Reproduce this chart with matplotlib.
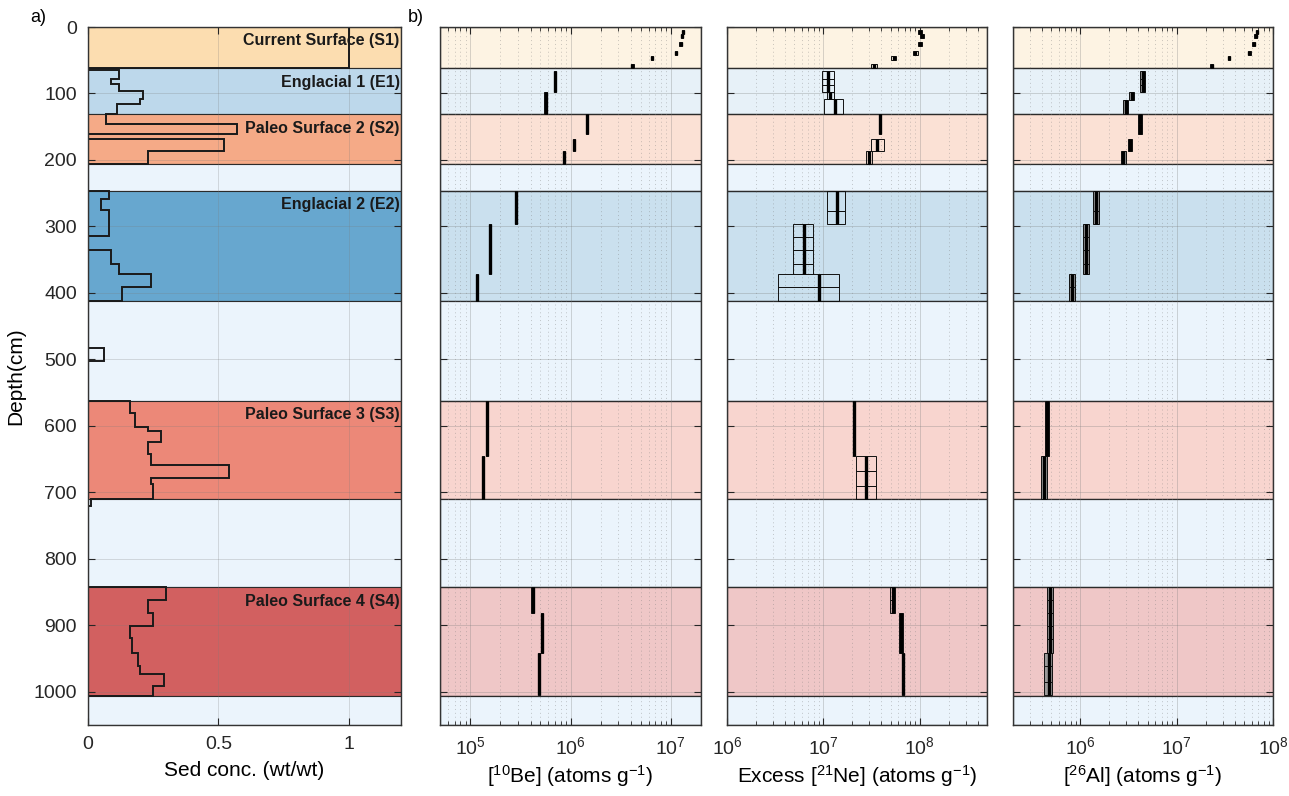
import numpy as np
import matplotlib.pyplot as plt
from matplotlib.patches import Rectangle
from matplotlib.colors import to_rgba

plt.rcParams['font.family'] = ['Liberation Sans', 'DejaVu Sans']
plt.rcParams['mathtext.fontset'] = 'custom'
plt.rcParams['mathtext.rm'] = 'Liberation Sans'
plt.rcParams['mathtext.it'] = 'Liberation Sans:italic'
plt.rcParams['mathtext.bf'] = 'Liberation Sans:bold'

# stratigraphic units (depth in cm)
layer_name = ['Current Surface (S1)', 'Englacial 1 (E1)', 'Paleo Surface 2 (S2)', '',
              'Englacial 2 (E2)', '', 'Paleo Surface 3 (S3)', '', 'Paleo Surface 4 (S4)', '']
layer_top = [0, 62, 131, 206, 246, 412, 562, 710, 843, 1006]
layer_bot = [62, 131, 206, 246, 412, 562, 710, 843, 1006, 1050]
layer_col = ['#FCDDB0', '#BDD8EB', '#F5AA87', '#EBF4FC', '#67A7CF',
             '#EBF4FC', '#EC8878', '#EBF4FC', '#D26060', '#EBF4FC']

# sediment concentration profile (stairs)
sed_edges = [0, 62, 65, 78, 85, 96, 109, 116, 131, 146, 161, 169, 186, 206,
             246, 259, 276, 315, 336, 356, 371, 391, 412, 483, 503,
             562, 581, 602, 607, 625, 642, 659, 678, 687, 710, 720,
             843, 862, 882, 901, 919, 941, 961, 973, 991, 1006, 1050]
sed_vals = [1.0, 0, 0.12, 0.09, 0.12, 0.21, 0.20, 0.11, 0.07, 0.57, 0, 0.52, 0.23,
            0, 0.08, 0.05, 0.08, 0, 0.09, 0.12, 0.24, 0.13, 0, 0.06, 0,
            0.16, 0.18, 0.23, 0.28, 0.23, 0.24, 0.54, 0.24, 0.25, 0.01, 0,
            0.30, 0.23, 0.25, 0.16, 0.17, 0.19, 0.20, 0.29, 0.25, 0]

# 10Be
be_top = [4, 10, 22, 36, 43, 56, 66, 98, 131, 169, 186, 246, 296, 371, 562, 645, 843, 881, 941]
be_bot = [10, 17, 28, 42, 50, 62, 98, 131, 161, 186, 206, 296, 371, 412, 645, 710, 881, 941, 1005]
be_val = [1.33e7, 1.30e7, 1.25e7, 1.12e7, 6.5e6, 4.15e6, 6.98e5, 5.65e5, 1.45e6, 1.08e6,
          8.6e5, 2.86e5, 1.58e5, 1.16e5, 1.47e5, 1.35e5, 4.18e5, 5.17e5, 4.84e5]
be_lo = [1.30e7, 1.27e7, 1.22e7, 1.09e7, 6.3e6, 4.0e6, 6.8e5, 5.5e5, 1.42e6, 1.05e6,
         8.4e5, 2.8e5, 1.53e5, 1.13e5, 1.44e5, 1.32e5, 4.08e5, 5.05e5, 4.72e5]
be_hi = [1.36e7, 1.33e7, 1.28e7, 1.15e7, 6.7e6, 4.3e6, 7.2e5, 5.8e5, 1.48e6, 1.11e6,
         8.8e5, 2.92e5, 1.63e5, 1.19e5, 1.50e5, 1.38e5, 4.28e5, 5.29e5, 4.96e5]

# excess 21Ne
ne_top = [4, 10, 22, 36, 43, 56, 66, 78, 88, 98, 109, 131, 169, 186,
          246, 277, 296, 316, 336, 356, 371, 391, 562, 645, 668, 690,
          843, 862, 881, 901, 921, 941, 961, 985]
ne_bot = [10, 17, 28, 42, 50, 62, 78, 88, 98, 109, 131, 161, 186, 206,
          277, 296, 316, 336, 356, 371, 391, 412, 645, 668, 690, 710,
          862, 881, 901, 921, 941, 961, 985, 1005]
ne_val = [1.01e8, 1.05e8, 1.02e8, 9.0e7, 5.4e7, 3.37e7, 1.12e7, 1.12e7, 1.12e7, 1.18e7, 1.32e7,
          3.9e7, 3.6e7, 2.95e7, 1.38e7, 1.38e7, 6.3e6, 6.3e6, 6.3e6, 6.3e6, 9.1e6, 9.1e6,
          2.1e7, 2.8e7, 2.8e7, 2.8e7, 5.25e7, 5.25e7, 6.4e7, 6.4e7, 6.4e7, 6.7e7, 6.7e7, 6.7e7]
ne_lo = [9.6e7, 1.0e8, 9.7e7, 8.5e7, 5.1e7, 3.1e7, 9.8e6, 9.8e6, 9.8e6, 1.08e7, 1.02e7,
         3.8e7, 3.1e7, 2.8e7, 1.1e7, 1.1e7, 4.9e6, 4.9e6, 4.9e6, 4.9e6, 3.4e6, 3.4e6,
         2.05e7, 2.2e7, 2.2e7, 2.2e7, 4.9e7, 4.9e7, 6.1e7, 6.1e7, 6.1e7, 6.5e7, 6.5e7, 6.5e7]
ne_hi = [1.06e8, 1.1e8, 1.07e8, 9.5e7, 5.7e7, 3.6e7, 1.28e7, 1.28e7, 1.28e7, 1.28e7, 1.6e7,
         4.0e7, 4.3e7, 3.2e7, 1.67e7, 1.67e7, 7.8e6, 7.8e6, 7.8e6, 7.8e6, 1.47e7, 1.47e7,
         2.15e7, 3.5e7, 3.5e7, 3.5e7, 5.6e7, 5.6e7, 6.7e7, 6.7e7, 6.7e7, 6.9e7, 6.9e7, 6.9e7]

# 26Al
al_top = [4, 10, 22, 36, 43, 56, 66, 78, 88, 98, 110, 131, 146, 169, 186,
          246, 277, 296, 316, 336, 356, 371, 391, 562, 645,
          843, 862, 881, 901, 921, 941, 961, 985]
al_bot = [10, 17, 28, 42, 50, 62, 78, 88, 98, 110, 131, 146, 161, 186, 206,
          277, 296, 316, 336, 356, 371, 391, 412, 645, 710,
          862, 881, 901, 921, 941, 961, 985, 1005]
al_val = [6.8e7, 6.6e7, 6.3e7, 5.7e7, 3.5e7, 2.3e7, 4.44e6, 4.44e6, 4.44e6, 3.4e6, 2.95e6,
          4.2e6, 4.2e6, 3.28e6, 2.8e6, 1.47e6, 1.47e6, 1.15e6, 1.15e6, 1.15e6, 1.15e6, 8.2e5, 8.2e5,
          4.5e5, 4.2e5, 4.84e5, 4.84e5, 4.84e5, 4.84e5, 4.84e5, 4.7e5, 4.7e5, 4.7e5]
al_lo = [6.6e7, 6.4e7, 6.1e7, 5.5e7, 3.4e7, 2.2e7, 4.2e6, 4.2e6, 4.2e6, 3.2e6, 2.8e6,
         4.0e6, 4.0e6, 3.1e6, 2.65e6, 1.36e6, 1.36e6, 1.07e6, 1.07e6, 1.07e6, 1.07e6, 7.6e5, 7.6e5,
         4.3e5, 3.9e5, 4.5e5, 4.5e5, 4.5e5, 4.5e5, 4.5e5, 4.2e5, 4.2e5, 4.2e5]
al_hi = [7.0e7, 6.8e7, 6.5e7, 5.9e7, 3.6e7, 2.4e7, 4.7e6, 4.7e6, 4.7e6, 3.6e6, 3.1e6,
         4.4e6, 4.4e6, 3.45e6, 2.95e6, 1.57e6, 1.57e6, 1.24e6, 1.24e6, 1.24e6, 1.24e6, 8.8e5, 8.8e5,
         4.7e5, 4.5e5, 5.2e5, 5.2e5, 5.2e5, 5.2e5, 5.2e5, 5.1e5, 5.1e5, 5.1e5]

W, H = 1289, 796
fig = plt.figure(figsize=(W / 100, H / 100), dpi=100)


def box(x0, x1):
    return [x0 / W, 1 - 725 / H, (x1 - x0) / W, 698 / H]


ax_a = fig.add_axes(box(88, 401))
ax_be = fig.add_axes(box(440, 701))
ax_ne = fig.add_axes(box(727, 987))
ax_al = fig.add_axes(box(1013, 1273))

edge = '#2b2b2b'

# panel a
for name, t, b, c in zip(layer_name, layer_top, layer_bot, layer_col):
    ax_a.axhspan(t, b, facecolor=c, edgecolor=edge, lw=0.8, zorder=0)
    if name:
        ax_a.text(1.195, t + 21, name, ha='right', va='center', fontsize=11.5,
                  fontweight='bold', color='#1a1a1a', zorder=5)
ax_a.stairs(sed_vals, sed_edges, orientation='horizontal', baseline=None,
            color='#1a1a1a', lw=1.4, zorder=4)
ax_a.set_xlim(0, 1.2)
ax_a.set_ylim(1050, 0)
ax_a.set_xticks([0, 0.5, 1])
ax_a.set_xticklabels(['0', '0.5', '1'])
ax_a.set_yticks(np.arange(0, 1001, 100))
ax_a.set_axisbelow(False)
ax_a.grid(True, color='#7a7a7a', alpha=0.25, lw=0.7)
ax_a.set_xlabel('Sed conc. (wt/wt)', fontsize=15, labelpad=6)
ax_a.set_ylabel('Depth(cm)', fontsize=15, labelpad=6)

# panel b
panels = [
    (ax_be, be_top, be_bot, be_val, be_lo, be_hi, (5e4, 2e7),
     '[$^{10}$Be] (atoms g$^{-1}$)', '#9a9a9a'),
    (ax_ne, ne_top, ne_bot, ne_val, ne_lo, ne_hi, (1e6, 5e8),
     'Excess [$^{21}$Ne] (atoms g$^{-1}$)', 'none'),
    (ax_al, al_top, al_bot, al_val, al_lo, al_hi, (2e5, 1e8),
     '[$^{26}$Al] (atoms g$^{-1}$)', '#9a9a9a'),
]
for ax, top, bot, val, lo, hi, xl, lab, face in panels:
    for name, t, b, c in zip(layer_name, layer_top, layer_bot, layer_col):
        fc = to_rgba(c, 0.35) if name else c
        ax.axhspan(t, b, facecolor=fc, edgecolor=edge, lw=0.9, zorder=0)
    for t, b, v, l, h in zip(top, bot, val, lo, hi):
        ax.add_patch(Rectangle((l, t), h - l, b - t, facecolor=face,
                               edgecolor='#111111', lw=0.7, zorder=3))
        ax.plot([v, v], [t, b], color='k', lw=2.4, solid_capstyle='butt', zorder=4)
    ax.set_xscale('log')
    ax.set_xlim(*xl)
    ax.set_ylim(1050, 0)
    ax.set_yticks(np.arange(0, 1001, 100))
    ax.tick_params(labelleft=False)
    ax.set_axisbelow(False)
    ax.grid(True, which='major', color='#7a7a7a', alpha=0.3, lw=0.7)
    ax.grid(True, which='minor', axis='x', color='#7a7a7a', alpha=0.4,
            lw=0.7, linestyle=(0, (1, 3)))
    ax.set_xlabel(lab, fontsize=15, labelpad=4)

for ax in [ax_a, ax_be, ax_ne, ax_al]:
    ax.tick_params(which='both', direction='in', top=True, right=True,
                   labelsize=14, colors='#262626')
    ax.tick_params(which='major', length=5, width=0.8, pad=8)
    ax.tick_params(which='minor', length=3, width=0.6)
    for s in ax.spines.values():
        s.set_color('#333333')
        s.set_linewidth(1.0)
        s.set_zorder(6)

fig.text(30 / W, 1 - 18 / H, 'a)', fontsize=13, va='center')
fig.text(408 / W, 1 - 18 / H, 'b)', fontsize=13, va='center')

fig.savefig('out.png', dpi=100)
